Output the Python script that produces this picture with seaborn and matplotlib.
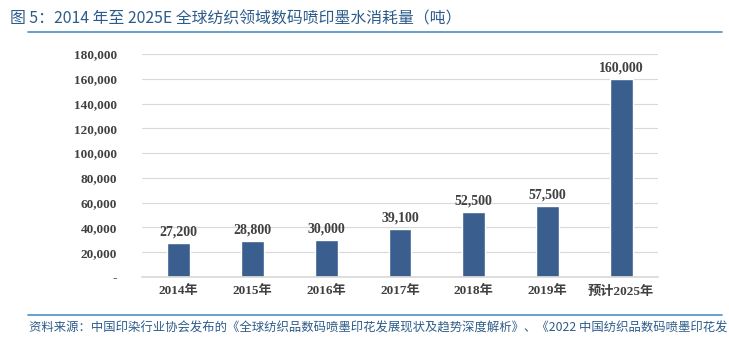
import matplotlib
matplotlib.use("Agg")
import matplotlib.pyplot as plt
import seaborn as sns
import pandas as pd
from matplotlib.ticker import FuncFormatter
from matplotlib.lines import Line2D

categories = ["2014年", "2015年", "2016年", "2017年", "2018年", "2019年", "预计2025年"]
values = [27200, 28800, 30000, 39100, 52500, 57500, 160000]
yticks = [0, 20000, 40000, 60000, 80000, 100000, 120000, 140000, 160000, 180000]

title = "图 5：2014 年至 2025E 全球纺织领域数码喷印墨水消耗量（吨）"
source = "资料来源：中国印染行业协会发布的《全球纺织品数码喷墨印花发展现状及趋势深度解析》、《2022 中国纺织品数码喷墨印花发"

sns.set_theme(style="white")
plt.rcParams['font.family'] = ['Liberation Serif', 'Noto Sans CJK SC', 'DejaVu Sans']

df = pd.DataFrame({"cat": categories, "val": values})

fig = plt.figure(figsize=(7.29, 3.43), dpi=100)
ax = fig.add_axes([0.1948, 0.1924, 0.7078, 0.6502])

bar_color = "#3A5F8E"
sns.barplot(data=df, x="cat", y="val", color=bar_color, width=0.31, ax=ax, saturation=1)

ax.set_ylim(0, 180000)
ax.set_yticks(yticks)
ax.yaxis.set_major_formatter(FuncFormatter(lambda v, p: "-" if v == 0 else f"{int(v):,}"))
ax.grid(axis="y", color="#D9D9D9", linewidth=0.8)
ax.set_axisbelow(True)
for s in ["top", "right", "left"]:
    ax.spines[s].set_visible(False)
ax.spines["bottom"].set_color("#D9D9D9")
ax.set_xlabel("")
ax.set_ylabel("")
ax.tick_params(axis="y", length=0, pad=18, labelsize=9.5, labelcolor="#404040")
ax.tick_params(axis="x", length=0, pad=6, labelsize=9.5, labelcolor="#404040")
for lab in ax.get_yticklabels() + ax.get_xticklabels():
    lab.set_fontweight("bold")

for i, v in enumerate(values):
    ax.text(i, v + 3500, f"{v:,}", ha="center", va="bottom", fontsize=10,
            fontweight="bold", color="#404040")

title_color = "#2E5C8A"
fig.text(0.014, 0.945, title, fontsize=11.4, color=title_color,
         family=['Noto Sans CJK SC', 'DejaVu Sans'], va="center", ha="left")
fig.add_artist(Line2D([0.038, 0.99], [0.907, 0.907], transform=fig.transFigure,
                      color="#4A90C8", linewidth=1.2))
fig.add_artist(Line2D([0.038, 0.99], [0.082, 0.082], transform=fig.transFigure,
                      color="#4A90C8", linewidth=1.2))
fig.text(0.04, 0.044, source, fontsize=8.9, color=title_color, style="italic",
         family=['Noto Sans CJK SC', 'DejaVu Sans'], va="center", ha="left")

fig.savefig("out.png", dpi=100)
